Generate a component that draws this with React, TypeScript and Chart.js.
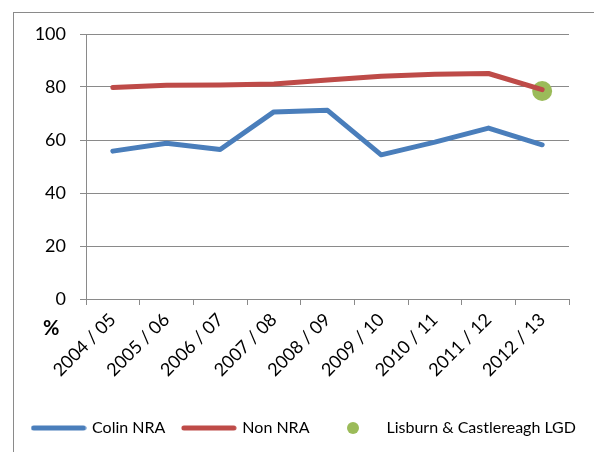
import React, { useEffect, useRef } from 'react';
import { Chart, registerables } from 'chart.js';

Chart.register(...registerables);

const categories = ['2004 / 05', '2005 / 06', '2006 / 07', '2007 / 08', '2008 / 09', '2009 / 10', '2010 / 11', '2011 / 12', '2012 / 13'];
const colinNRA = [55.8, 58.8, 56.4, 70.6, 71.2, 54.4, 59.2, 64.5, 58.2];
const nonNRA = [79.8, 80.7, 80.8, 81.1, 82.6, 84.1, 84.8, 85.1, 79.0];
const lisburnLGD = [null, null, null, null, null, null, null, null, 78.5];
const seriesNames = ['Colin NRA', 'Non NRA', 'Lisburn & Castlereagh LGD'];
const yTickValues = [0, 20, 40, 60, 80, 100];

const BLUE = '#4a7ebb';
const RED = '#be4b48';
const GREEN = '#9bbb59';
const GRID = '#8a8a8a';
const FONT = 'Lato, "Open Sans", sans-serif';

function lineImg(color: string) {
  const c = document.createElement('canvas');
  c.width = 56;
  c.height = 8;
  const ctx = c.getContext('2d')!;
  ctx.strokeStyle = color;
  ctx.lineWidth = 5;
  ctx.lineCap = 'round';
  ctx.beginPath();
  ctx.moveTo(3, 4);
  ctx.lineTo(53, 4);
  ctx.stroke();
  return c;
}

function dotImg(color: string) {
  const c = document.createElement('canvas');
  c.width = 14;
  c.height = 14;
  const ctx = c.getContext('2d')!;
  ctx.fillStyle = color;
  ctx.beginPath();
  ctx.arc(7, 7, 6, 0, Math.PI * 2);
  ctx.fill();
  return c;
}

export default function App() {
  const ref = useRef<HTMLCanvasElement>(null);

  useEffect(() => {
    if (!ref.current) return;
    const legendImgs = [lineImg(BLUE), lineImg(RED), dotImg(GREEN)];
    const chart = new Chart(ref.current, {
      type: 'line',
      data: {
        labels: categories,
        datasets: [
          {
            label: seriesNames[0],
            data: colinNRA,
            borderColor: BLUE,
            backgroundColor: BLUE,
            borderWidth: 5,
            pointRadius: 0,
            borderCapStyle: 'round',
            borderJoinStyle: 'round',
            tension: 0,
          },
          {
            label: seriesNames[1],
            data: nonNRA,
            borderColor: RED,
            backgroundColor: RED,
            borderWidth: 5,
            pointRadius: 0,
            borderCapStyle: 'round',
            borderJoinStyle: 'round',
            tension: 0,
          },
          {
            label: seriesNames[2],
            data: lisburnLGD,
            borderColor: GREEN,
            backgroundColor: GREEN,
            showLine: false,
            pointRadius: 10,
            pointBorderWidth: 0,
            pointHoverRadius: 10,
          },
        ],
      },
      options: {
        responsive: false,
        animation: false,
        layout: { padding: { top: 21, left: 0, right: 0, bottom: 7 } },
        plugins: {
          tooltip: { enabled: false },
          legend: {
            position: 'bottom',
            labels: {
              usePointStyle: true,
              pointStyleWidth: 51,
              padding: 18,
              color: '#000',
              font: { family: FONT, size: 16 },
              generateLabels: (ch: any) => {
                const items = Chart.defaults.plugins.legend.labels.generateLabels(ch);
                items.forEach((it: any, i: number) => {
                  it.pointStyle = legendImgs[i];
                });
                return items;
              },
            },
          },
        },
        scales: {
          x: {
            offset: true,
            grid: { offset: true, drawOnChartArea: false, drawTicks: true, tickLength: 6, color: GRID },
            border: { display: true, color: GRID, width: 1 },
            ticks: {
              autoSkip: false,
              minRotation: 45,
              maxRotation: 45,
              color: '#000',
              font: { family: FONT, size: 18 },
              padding: 4,
            },
            afterFit: (s: any) => {
              s.height = 103;
            },
          },
          y: {
            min: 0,
            max: 100,
            afterBuildTicks: (s: any) => {
              s.ticks = yTickValues.map((v) => ({ value: v }));
            },
            grid: { drawTicks: true, tickLength: 6, color: GRID, lineWidth: 1 },
            border: { display: true, color: GRID, width: 1 },
            ticks: {
              color: '#000',
              font: { family: FONT, size: 18 },
              padding: 14,
            },
            afterFit: (s: any) => {
              s.width = 72;
              s.paddingTop = 0;
              s.paddingBottom = 0;
            },
          },
          yRight: {
            position: 'right',
            display: true,
            grid: { drawOnChartArea: false, drawTicks: false, display: false },
            border: { display: false },
            ticks: { display: false },
            afterFit: (s: any) => {
              s.width = 26;
              s.paddingTop = 0;
              s.paddingBottom = 0;
            },
          },
        },
      },
    });
    return () => chart.destroy();
  }, []);

  return (
    <div
      style={{
        position: 'absolute',
        left: 13,
        top: 12,
        width: 584,
        height: 460,
        border: '1px solid #8a8a8a',
        boxSizing: 'border-box',
        background: '#fff',
      }}
    >
      <canvas ref={ref} width={581} height={440} style={{ position: 'absolute', left: 0, top: 0 }} />
      <div
        style={{
          position: 'absolute',
          left: 29,
          top: 302,
          fontFamily: FONT,
          fontWeight: 700,
          fontSize: 20,
          lineHeight: '24px',
          color: '#000',
        }}
      >
        %
      </div>
    </div>
  );
}
